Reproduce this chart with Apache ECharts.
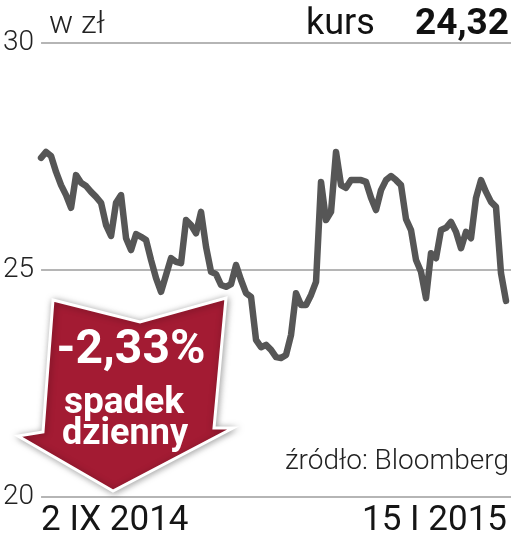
<!DOCTYPE html>
<html>
<head>
<meta charset="utf-8">
<script src="https://cdn.jsdelivr.net/npm/echarts@6/dist/echarts.min.js"></script>
<style>
html,body{margin:0;padding:0;background:#fff;}
#c{width:511px;height:542px;}
</style>
</head>
<body>
<div id="c"></div>
<script>
// Daily closing price (zł), 2 IX 2014 – 15 I 2015
const values = [27.47,27.60,27.51,27.16,26.87,26.65,26.37,27.09,26.92,26.85,
  26.72,26.61,26.48,25.99,25.75,26.48,26.65,25.70,25.44,25.79,
  25.73,25.66,25.22,24.82,24.52,24.89,25.26,25.18,25.15,26.10,
  25.99,25.81,26.28,25.51,24.96,24.91,24.67,24.63,24.69,25.11,
  24.78,24.49,24.41,23.46,23.30,23.35,23.24,23.08,23.06,23.13,
  23.57,24.49,24.23,24.23,24.45,24.74,26.94,26.10,26.28,27.60,
  26.87,26.81,26.98,26.98,26.98,26.94,26.59,26.32,26.76,26.98,
  27.07,26.98,26.87,26.12,25.88,25.22,24.96,24.38,25.37,25.26,
  25.88,25.93,26.06,25.84,25.48,25.84,25.70,26.59,26.98,26.72,
  26.50,26.39,24.93,24.32];
// one category per session, plus one trailing empty slot
const categories = values.map((v, i) => 'd' + i).concat(['']);
const tickLabels = ['2 IX 2014', '15 I 2015'];
const yTicks = [20, 25, 30];
const unitText = 'w zł';
const kursLabel = 'kurs';
const kursValue = '24,32';
const changeText = '-2,33%';
const changeLines = ['spadek', 'dzienny'];
const sourceText = 'źródło: Bloomberg';

const chart = echarts.init(document.getElementById('c'), null, {renderer: 'canvas'});
const lastCat = categories.length - 1;

chart.setOption({
  animation: false,
  grid: {left: 40, right: 0, top: 43, bottom: 45, containLabel: false},
  xAxis: {
    type: 'category',
    data: categories,
    boundaryGap: false,
    axisLine: {show: false},
    axisTick: {show: false},
    splitLine: {show: false},
    axisLabel: {
      interval: (i) => i === 0 || i === lastCat,
      formatter: (v, i) => i === 0 ? tickLabels[0] : (i === lastCat ? tickLabels[1] : ''),
      alignMinLabel: 'left',
      alignMaxLabel: 'right',
      showMinLabel: true,
      showMaxLabel: true,
      hideOverlap: false,
      padding: [0, 4, 0, 0],
      margin: 7,
      fontFamily: 'Roboto',
      fontSize: 35,
      color: '#151515'
    }
  },
  yAxis: {
    type: 'value',
    min: yTicks[0],
    max: yTicks[yTicks.length - 1],
    interval: yTicks[1] - yTicks[0],
    axisLine: {show: false},
    axisTick: {show: false},
    axisLabel: {
      margin: 7,
      fontFamily: 'Roboto',
      fontWeight: 300,
      fontSize: 28,
      color: '#222',
      verticalAlign: 'middle'
    },
    splitLine: {show: true, lineStyle: {color: '#9c9c9c', width: 1.6}}
  },
  series: [{
    type: 'line',
    data: values,
    symbol: 'none',
    smooth: false,
    lineStyle: {color: '#565656', width: 6.5, cap: 'round', join: 'round'},
    z: 3
  }],
  graphic: [
    {type: 'text', left: 49, top: 9, z: 10,
     style: {text: unitText, font: '300 32px Roboto', fill: '#222'}},
    {type: 'text', left: 306, top: 7, z: 10,
     style: {text: kursLabel, font: '400 36px Roboto', fill: '#111'}},
    {type: 'text', right: 2, top: 6, z: 10,
     style: {text: kursValue, font: '700 37px Roboto', fill: '#111'}},
    {type: 'text', right: 2, top: 448, z: 10,
     style: {text: sourceText, font: '300 28px Roboto', fill: '#222'}},
    {type: 'polygon', z: 20,
     shape: {points: [[53,300],[140,322],[226,298],[214,428],[233,428],[113,491],[18,436],[43,432]]},
     style: {fill: '#a31b33', stroke: '#ffffff', lineWidth: 3, lineJoin: 'miter',
             shadowBlur: 7, shadowColor: 'rgba(0,0,0,0.35)', shadowOffsetX: 1, shadowOffsetY: 1}},
    {type: 'text', z: 21, x: 131, y: 327,
     style: {text: changeText, font: '700 48px Roboto', fill: '#fff', align: 'center', verticalAlign: 'top'}},
    {type: 'text', z: 21, x: 124, y: 385,
     style: {text: changeLines[0], font: '700 37px Roboto', fill: '#fff', align: 'center', verticalAlign: 'top'}},
    {type: 'text', z: 21, x: 125, y: 417,
     style: {text: changeLines[1], font: '700 36px Roboto', fill: '#fff', align: 'center', verticalAlign: 'top'}}
  ]
});
</script>
</body>
</html>
